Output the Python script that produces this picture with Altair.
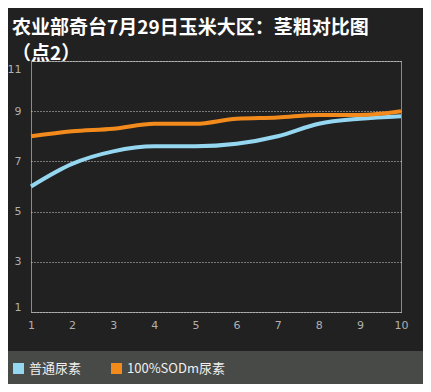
import altair as alt
import pandas as pd

x_vals = [1, 2, 3, 4, 5, 6, 7, 8, 9, 10]
series_a = "普通尿素"
series_b = "100%SODm尿素"
vals_a = [6.0, 6.9, 7.4, 7.6, 7.6, 7.7, 8.0, 8.5, 8.7, 8.8]
vals_b = [8.0, 8.2, 8.3, 8.5, 8.5, 8.7, 8.75, 8.85, 8.85, 9.0]
y_ticks = [1, 3, 5, 7, 9, 11]
title_lines = ["农业部奇台7月29日玉米大区：茎粗对比图", "（点2）"]

df = pd.DataFrame({
    "x": x_vals * 2,
    "y": vals_a + vals_b,
    "s": [series_a] * len(x_vals) + [series_b] * len(x_vals),
})

W, H = 370, 251

band = alt.Chart(pd.DataFrame({"a": [0]})).mark_rect(color="#484a47", clip=False).encode(
    x=alt.value(-31), x2=alt.value(400), y=alt.value(290), y2=alt.value(325)
)

y_label_offset = {
    "condition": [
        {"test": "datum.value == 11", "value": 8},
        {"test": "datum.value == 1", "value": -5},
    ],
    "value": 0,
}

lines = alt.Chart(df).mark_line(strokeWidth=4, interpolate="monotone").encode(
    x=alt.X("x:Q", scale=alt.Scale(domain=[1, 10], nice=False, zero=False),
            axis=alt.Axis(values=x_vals, title=None, grid=False, ticks=False, domain=False,
                          labelColor="#b0b0b0", labelFontSize=11, labelFont="DejaVu Sans",
                          labelPadding=7, labelFlush=False)),
    y=alt.Y("y:Q", scale=alt.Scale(domain=[1, 11], nice=False, zero=False),
            axis=alt.Axis(values=y_ticks, title=None, grid=True, gridColor="#e0e0e0",
                          gridDash=[1, 2], gridOpacity=0.9, ticks=False, domain=False,
                          labelColor="#b0b0b0", labelFontSize=11, labelFont="DejaVu Sans",
                          labelPadding=10, labelFlush=False, labelOffset=y_label_offset)),
    color=alt.Color("s:N", sort=[series_a, series_b],
                    scale=alt.Scale(domain=[series_a, series_b], range=["#95d7f1", "#f28a1c"]),
                    legend=alt.Legend(title=None, orient="none", legendX=-19, legendY=301,
                                      direction="horizontal", symbolType="square",
                                      symbolSize=25, symbolStrokeWidth=6,
                                      labelColor="#f0f0f0", labelFontSize=13,
                                      labelFont="Noto Sans CJK SC", columnPadding=20,
                                      labelOffset=4)),
)

chart = alt.layer(band, lines).properties(
    width=W, height=H,
    autosize=alt.AutoSizeParams(type="none"),
    padding={"left": 23, "top": 53, "right": 22, "bottom": 72},
    background="#212121",
    title=alt.TitleParams(text=title_lines, anchor="start", frame="group",
                          font="Noto Sans CJK SC", fontSize=19, fontWeight="bold",
                          color="#ffffff", dx=-19, offset=-3, lineHeight=26, orient="top"),
).configure_view(stroke="#8a8a8a", strokeWidth=1)

chart.save("out.html", embed_options={"renderer": "svg", "actions": False})
